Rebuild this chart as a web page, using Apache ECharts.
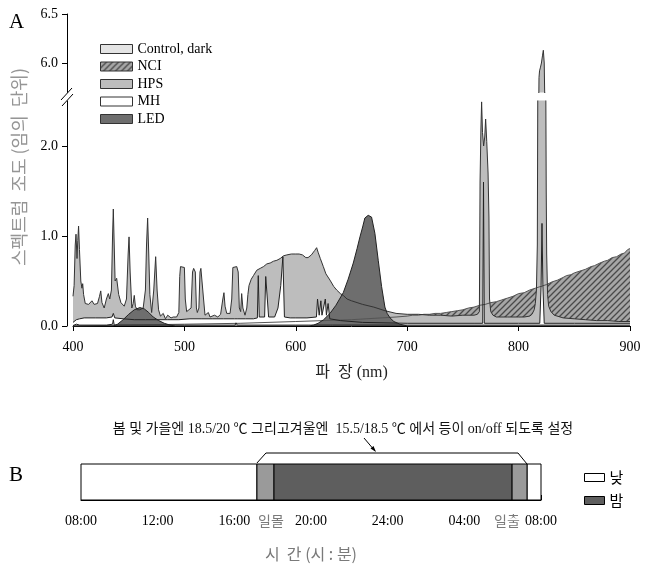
<!DOCTYPE html>
<html><head><meta charset="utf-8">
<script src="https://cdn.jsdelivr.net/npm/echarts@6/dist/echarts.min.js"></script>
<style>html,body{margin:0;padding:0;background:#fff}#c{width:649px;height:571px}</style>
</head><body><div id="c"></div>
<script>
// ---------------- DATA ----------------
const seriesNames = ['Control, dark', 'NCI', 'HPS', 'MH', 'LED'];
const xTicks = [400, 500, 600, 700, 800, 900];
const yLowTicks = [0, 1, 2];
const yHighTicks = [6.0, 6.5];

const controlDark = [[400,0.005],[403,0.02],[404.5,0.035],[406,0.01],[430,0.01],[435.5,0.02],[436.2,0.07],[437,0.01],[500,0.01],[545.5,0.01],[546.3,0.035],[547.5,0.01],[600,0.01],[611,0.01],[612,0.025],[613,0.01],[631,0.01],[632,0.02],[633,0.01],[700,0.01],[767,0.01],[768,0.03],[769,0.01],[820,0.01],[821,0.03],[822,0.01],[900,0.01]];

const nci = [[400,0.0],[450,0.01],[500,0.02],[550,0.03],[600,0.05],[650,0.07],[690,0.1],[700,0.11],[705,0.12],[710,0.12],[715,0.13],[720,0.13],[725,0.14],[730,0.14],[735,0.15],[740,0.16],[745,0.17],[750,0.18],[755,0.2],[760,0.21],[765,0.23],[770,0.24],[775,0.26],[780,0.27],[785,0.29],[790,0.31],[795,0.33],[800,0.36],[805,0.37],[810,0.4],[815,0.42],[820,0.44],[825,0.46],[830,0.49],[835,0.51],[840,0.54],[843,0.56],[847,0.57],[850,0.59],[855,0.61],[860,0.63],[865,0.66],[868,0.67],[873,0.7],[877,0.72],[880,0.73],[884,0.76],[888,0.77],[892,0.8],[895,0.81],[898,0.85],[900,0.86]];

const hps = [[400,0.33],[401,0.45],[402,0.9],[402.7,1.02],[403.6,0.75],[404.3,0.95],[405,1.11],[405.8,0.85],[407,0.5],[408,0.42],[408.7,0.47],[409.5,0.35],[411,0.25],[414,0.24],[417,0.28],[419,0.24],[422,0.25],[423.8,0.33],[424.9,0.39],[426,0.26],[428,0.2],[430,0.3],[431.7,0.36],[433,0.3],[434.5,0.4],[435.5,1.0],[436.2,1.3],[437,0.9],[437.8,0.5],[439.2,0.53],[441,0.35],[443,0.26],[446,0.22],[448,0.3],[449.5,0.8],[450.3,0.99],[451.3,0.6],[452.8,0.2],[454,0.25],[455,0.34],[456,0.22],[457.5,0.18],[460,0.18],[463,0.2],[465,0.4],[466,0.9],[467,1.2],[468,0.8],[469,0.35],[470.6,0.15],[472.5,0.4],[474.2,0.77],[475.5,0.4],[476.8,0.18],[478.5,0.11],[481,0.14],[483,0.08],[485,0.12],[488,0.09],[490,0.1],[493,0.1],[495,0.15],[495.8,0.55],[496.5,0.66],[500,0.65],[500.8,0.3],[502,0.16],[504,0.18],[506,0.2],[507.3,0.6],[508.3,0.64],[509.8,0.6],[510.8,0.2],[511.6,0.15],[513,0.2],[514,0.6],[514.8,0.64],[516.4,0.64],[517.2,0.3],[518.5,0.12],[520,0.13],[521.5,0.15],[523,0.1],[524.5,0.1],[527,0.12],[530,0.1],[532.5,0.13],[534.5,0.3],[535.5,0.37],[536.5,0.22],[538,0.14],[541,0.14],[542.5,0.3],[543.5,0.65],[545,0.66],[547,0.66],[548.3,0.6],[549.3,0.2],[550.5,0.16],[551.4,0.36],[552.5,0.2],[554.4,0.12],[556,0.2],[557,0.35],[558,0.45],[560,0.52],[562,0.56],[565,0.62],[568,0.64],[571,0.66],[574,0.69],[577,0.7],[580,0.72],[583,0.73],[586,0.75],[589,0.78],[592,0.79],[596,0.8],[600,0.8],[603,0.8],[606,0.79],[609,0.76],[611,0.76],[614,0.79],[617,0.84],[618.7,0.87],[620,0.82],[622,0.75],[624.7,0.66],[627,0.58],[630.7,0.51],[634,0.44],[636.7,0.4],[640,0.36],[642.6,0.34],[646,0.3],[650,0.28],[660,0.24],[670,0.21],[680,0.17],[690,0.14],[700,0.13],[710,0.13],[720,0.12],[730,0.12],[740,0.11],[750,0.12],[760,0.12],[763,0.13],[764.8,0.16],[765.4,1.6],[766.2,2.2],[766.8,2.49],[767.6,2.15],[768.6,2.0],[769.6,2.1],[770.4,2.3],[771.4,2.05],[772.6,1.7],[773.4,1.2],[773.9,0.3],[775,0.16],[777,0.12],[780,0.1],[790,0.1],[800,0.1],[805,0.1],[810,0.11],[812,0.13],[814,0.18],[815,0.25],[816,0.4],[816.8,0.9],[817.2,2.5],[817.6,5.0],[818.3,5.85],[818.8,5.92],[819.5,5.95],[820.5,6.0],[821.5,6.08],[822.2,6.13],[823,6.0],[823.8,5.4],[824.3,3.0],[824.8,1.5],[825.2,0.8],[826,0.35],[827,0.22],[829,0.16],[832,0.12],[840,0.09],[850,0.08],[860,0.07],[870,0.06],[880,0.06],[890,0.05],[900,0.05]];

const mh = [[400,0.04],[403,0.07],[406,0.08],[410,0.09],[420,0.09],[430,0.09],[435,0.1],[436.2,0.14],[437.5,0.09],[445,0.08],[455,0.07],[465,0.07],[475,0.07],[485,0.07],[495,0.07],[505,0.08],[515,0.08],[525,0.08],[535,0.08],[545,0.08],[546.5,0.1],[548,0.08],[555,0.08],[562,0.08],[565.5,0.09],[566.3,0.56],[567.2,0.1],[572,0.1],[573,0.55],[574.6,0.56],[575.6,0.1],[581,0.1],[584,0.2],[586.5,0.45],[588.4,0.77],[589.2,0.79],[589.8,0.1],[595,0.09],[600,0.09],[610,0.09],[618.5,0.1],[619.5,0.3],[621,0.12],[622.5,0.28],[623.5,0.12],[626.5,0.3],[627.5,0.12],[629,0.25],[630.5,0.08],[640,0.06],[660,0.04],[700,0.03],[760,0.03],[767.8,0.03],[768.5,1.6],[769.2,0.03],[800,0.03],[819,0.03],[820.2,0.45],[821,1.14],[821.8,0.45],[823,0.03],[850,0.03],[900,0.03]];

const led = [[400,0],[436,0],[440,0.02],[445,0.07],[450,0.13],[455,0.18],[460,0.205],[464,0.19],[468,0.15],[472,0.1],[477,0.06],[482,0.03],[487,0.01],[492,0],[612,0],[616,0.01],[620,0.03],[625,0.07],[630.7,0.14],[636,0.23],[642.6,0.37],[647,0.52],[651.6,0.7],[655,0.86],[657.6,0.99],[660,1.1],[662,1.2],[665,1.23],[668,1.21],[671,1.03],[674,0.73],[677,0.44],[680,0.21],[682,0.14],[684.6,0.09],[688,0.05],[693.5,0.02],[700,0],[900,0]];

// Panel B (hours since 08:00)
const timeLabels = ['08:00', '12:00', '16:00', '20:00', '24:00', '04:00', '08:00'];
const daySegments = [[0, 9.18], [23.27, 24]];
const twilightSegments = [[9.18, 10.07], [22.48, 23.27]];
const nightSegments = [[10.07, 22.48]];
const phaseNames = ['낮', '밤'];

// ---------------- STYLE ----------------
const SERIF = "'Liberation Serif','Times New Roman',serif";
const KR = "'Noto Sans CJK KR',sans-serif";
const MIX = "'Liberation Serif','Noto Sans CJK KR',serif";
const C = {control:'#e4e4e4', hps:'#bdbdbd', mh:'#ffffff', led:'#6e6e6e', twilight:'#9a9a9a', night:'#5e5e5e'};
const UPPER_MIN = 5.7, LOWER_MAX = 2.5;

const pc = document.createElement('canvas');
pc.width = 6; pc.height = 6;
const g = pc.getContext('2d');
g.fillStyle = '#a6a6a6'; g.fillRect(0, 0, 6, 6);
g.strokeStyle = '#4a4a4a'; g.lineWidth = 1.3;
g.beginPath();
g.moveTo(0, 6); g.lineTo(6, 0);
g.moveTo(-1, 1); g.lineTo(1, -1);
g.moveTo(5, 7); g.lineTo(7, 5);
g.stroke();
const hatch = {image: pc, repeat: 'repeat'};

// points of the HPS peak that reach into the upper (broken) segment, plus one neighbour each side
const hpsUpper = hps.filter((p, i) =>
  p[1] >= LOWER_MAX || (hps[i + 1] && hps[i + 1][1] >= UPPER_MIN) || (hps[i - 1] && hps[i - 1][1] >= UPPER_MIN));

function area(name, data, fill, stroke, xi, yi) {
  return {type:'line', name, data, xAxisIndex:xi, yAxisIndex:yi, symbol:'none', silent:true,
    clip:true, animation:false, lineStyle:{color:stroke, width:1},
    areaStyle:{color:fill, opacity:1, origin:'start'}, itemStyle:{color:fill},
    emphasis:{disabled:true}};
}
function segSeries(name, data, fill) {
  return {type:'custom', name, data, xAxisIndex:2, yAxisIndex:2, silent:true, animation:false,
    itemStyle:{color:fill},
    encode:{x:[0,1]},
    renderItem(params, api) {
      const s = api.coord([api.value(0), 1]);
      const e = api.coord([api.value(1), 0]);
      return {type:'rect', shape:{x:s[0], y:s[1], width:e[0]-s[0], height:e[1]-s[1]},
        style:{fill, stroke:'#000', lineWidth:1}};
    }};
}

const axisLine = {show:true, lineStyle:{color:'#000', width:1}};
const chart = echarts.init(document.getElementById('c'), null, {renderer:'canvas'});

chart.setOption({
  backgroundColor:'#fff',
  animation:false,
  grid:[
    {left:73, width:557, top:101, height:225},
    {left:73, width:557, top:14, height:78.4},
    {left:81, width:460, top:464, height:36}
  ],
  xAxis:[
    {type:'value', gridIndex:0, min:400, max:900, interval:100, offset:5, axisLine,
     axisTick:{show:true, length:5, lineStyle:{color:'#000'}}, splitLine:{show:false},
     axisLabel:{color:'#000', fontFamily:SERIF, fontSize:14, margin:9},
     name:'파  장 (nm)', nameLocation:'middle', nameGap:34,
     nameTextStyle:{color:'#222', fontFamily:MIX, fontSize:16}},
    {type:'value', gridIndex:1, min:400, max:900, show:false},
    {type:'value', gridIndex:2, min:0, max:24, interval:1, offset:32, axisLine,
     axisTick:{show:true, inside:true, length:5, lineStyle:{color:'#000'}},
     minorTick:{show:true, splitNumber:6, length:2.5, lineStyle:{color:'#000'}},
     splitLine:{show:false}, minorSplitLine:{show:false},
     axisLabel:{inside:true, margin:4, color:'#000', fontFamily:SERIF, fontSize:14,
       showMinLabel:true, showMaxLabel:true,
       formatter:v => (v % 4 === 0 ? timeLabels[v / 4] : '')},
     name:'시  간 (시 : 분)', nameLocation:'middle', nameGap:14,
     nameTextStyle:{color:'#7a7a7a', fontFamily:KR, fontSize:16}}
  ],
  yAxis:[
    {type:'value', gridIndex:0, min:0, max:LOWER_MAX, offset:6, axisLine, splitLine:{show:false},
     axisTick:{show:true, length:5, customValues:yLowTicks, lineStyle:{color:'#000'}},
     axisLabel:{customValues:yLowTicks, formatter:v => v.toFixed(1), color:'#000', fontFamily:SERIF, fontSize:14, margin:9}},
    {type:'value', gridIndex:1, min:UPPER_MIN, max:6.5, offset:6, axisLine, splitLine:{show:false},
     axisTick:{show:true, length:5, customValues:yHighTicks, lineStyle:{color:'#000'}},
     axisLabel:{customValues:yHighTicks, formatter:v => v.toFixed(1), color:'#000', fontFamily:SERIF, fontSize:14, margin:9}},
    {type:'value', gridIndex:2, min:0, max:1, show:false}
  ],
  legend:[
    {orient:'vertical', left:95, top:37, itemWidth:32, itemHeight:9, itemGap:3.5,
     selectedMode:false, icon:'rect',
     textStyle:{fontFamily:SERIF, fontSize:14, color:'#000', lineHeight:14},
     data:[
       {name:seriesNames[0], itemStyle:{color:C.control, borderColor:'#333', borderWidth:1}},
       {name:seriesNames[1], itemStyle:{color:hatch, borderColor:'#333', borderWidth:1}},
       {name:seriesNames[2], itemStyle:{color:C.hps, borderColor:'#333', borderWidth:1}},
       {name:seriesNames[3], itemStyle:{color:C.mh, borderColor:'#333', borderWidth:1}},
       {name:seriesNames[4], itemStyle:{color:C.led, borderColor:'#333', borderWidth:1}}
     ]},
    {orient:'vertical', left:579, top:465, itemWidth:20, itemHeight:8, itemGap:8,
     selectedMode:false, icon:'rect',
     textStyle:{fontFamily:KR, fontSize:15, color:'#000', lineHeight:15},
     data:[
       {name:phaseNames[0], itemStyle:{color:'#fff', borderColor:'#000', borderWidth:1}},
       {name:phaseNames[1], itemStyle:{color:C.night, borderColor:'#000', borderWidth:1}}
     ]}
  ],
  series:[
    area(seriesNames[1], nci, hatch, '#555', 0, 0),
    area(seriesNames[2], hps, C.hps, '#333', 0, 0),
    area(seriesNames[3], mh, C.mh, '#222', 0, 0),
    area(seriesNames[0], controlDark, C.control, '#222', 0, 0),
    area(seriesNames[4], led, C.led, '#222', 0, 0),
    area(seriesNames[2], hpsUpper, C.hps, '#333', 1, 1),
    segSeries(phaseNames[0], daySegments, '#ffffff'),
    segSeries('twilight', twilightSegments, C.twilight),
    segSeries(phaseNames[1], nightSegments, C.night)
  ]
});

// annotations positioned through the time axis
const px = v => chart.convertToPixel({xAxisIndex:2}, v);
const bx0 = px(twilightSegments[0][0]);
const bx1 = px(twilightSegments[1][1]);
const barTop = chart.convertToPixel({yAxisIndex:2}, 1);

chart.setOption({
  graphic:[
    {type:'text', left:9, top:12, style:{text:'A', font:'21px ' + SERIF, fill:'#000'}},
    {type:'text', left:9, top:465, style:{text:'B', font:'21px ' + SERIF, fill:'#000'}},
    {type:'text', x:19, y:167, rotation:Math.PI/2,
     style:{text:'스펙트럼  조도 (임의  단위)', font:'18px ' + KR, fill:'#959595', align:'center', verticalAlign:'middle'}},
    {type:'line', shape:{x1:61, y1:100, x2:72, y2:88}, style:{stroke:'#000', lineWidth:1}},
    {type:'line', shape:{x1:62, y1:106, x2:73, y2:94}, style:{stroke:'#000', lineWidth:1}},
    {type:'text', x:343, y:429,
     style:{text:'봄 및 가을엔 18.5/20 ℃ 그리고겨울엔  15.5/18.5 ℃ 에서 등이 on/off 되도록 설정',
       font:'14px ' + MIX, fill:'#111', align:'center', verticalAlign:'middle'}},
    {type:'polyline', shape:{points:[[bx0, barTop - 1],[bx0 + 9, barTop - 11],[bx1 - 9, barTop - 11],[bx1, barTop]]},
     style:{stroke:'#000', lineWidth:1, fill:null}},
    {type:'line', shape:{x1:364, y1:438, x2:375, y2:451}, style:{stroke:'#000', lineWidth:1}},
    {type:'polygon', shape:{points:[[376,452],[370.5,448.5],[373.5,446]]}, style:{fill:'#000'}},
    {type:'text', x:271, y:521, style:{text:'일몰', font:'14px ' + KR, fill:'#7a7a7a', align:'center', verticalAlign:'middle'}},
    {type:'text', x:507, y:521, style:{text:'일출', font:'14px ' + KR, fill:'#7a7a7a', align:'center', verticalAlign:'middle'}}
  ]
});
</script></body></html>
